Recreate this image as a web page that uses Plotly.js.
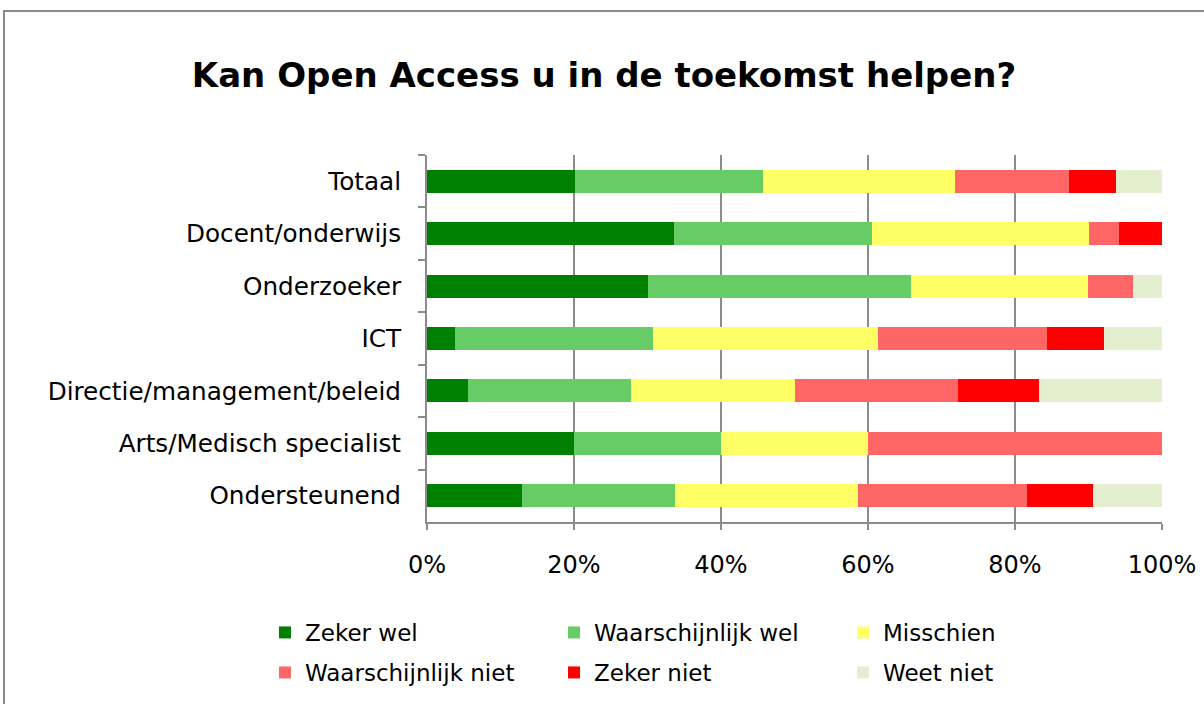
<!DOCTYPE html>
<html>
<head>
<meta charset="utf-8">
<script src="https://cdn.plot.ly/plotly-3.0.1.min.js"></script>
<style>html,body{margin:0;padding:0;background:#fff;}#chart{width:1204px;height:704px;}</style>
</head>
<body>
<div id="chart"></div>
<script>
var categories = ["Totaal", "Docent/onderwijs", "Onderzoeker", "ICT", "Directie/management/beleid", "Arts/Medisch specialist", "Ondersteunend"];
var seriesNames = ["Zeker wel", "Waarschijnlijk wel", "Misschien", "Waarschijnlijk niet", "Zeker niet", "Weet niet"];
var zekerWel = [20.1, 33.6, 30.0, 3.8, 5.6, 20, 12.9];
var waarschijnlijkWel = [25.6, 26.9, 35.9, 27.0, 22.2, 20, 20.9];
var misschien = [26.2, 29.5, 24.0, 30.5, 22.2, 20, 24.8];
var waarschijnlijkNiet = [15.4, 4.2, 6.1, 23.1, 22.2, 40, 23.0];
var zekerNiet = [6.4, 5.8, 0, 7.7, 11.1, 0, 9.0];
var weetNiet = [6.3, 0, 4.0, 7.9, 16.7, 0, 9.4];
var tickValues = [0, 20, 40, 60, 80, 100];
var tickLabels = ["0%", "20%", "40%", "60%", "80%", "100%"];

var seriesValues = [zekerWel, waarschijnlijkWel, misschien, waarschijnlijkNiet, zekerNiet, weetNiet];
var colors = ["#008000", "#66CC66", "#FFFF66", "#FF6666", "#FF0000", "#E4EFD0"];

var FONT = "DejaVu Sans, Verdana, sans-serif";

var traces = seriesValues.map(function (vals, i) {
  return {
    type: "bar",
    orientation: "h",
    name: seriesNames[i],
    y: categories,
    x: vals,
    marker: { color: colors[i], line: { width: 0 } },
    legend: i < 3 ? "legend" : "legend2",
    hoverinfo: "name+x"
  };
});

var plotL = 427, plotR = 1162, plotT = 155, plotB = 523;
var W = 1204, H = 704;
var pw = plotR - plotL, ph = plotB - plotT;
function px2x(p) { return (p - plotL) / pw; }
function py2y(p) { return (plotB - p) / ph; }

var legendFont = { family: FONT, size: 23, color: "#000" };

var layout = {
  width: W,
  height: H,
  paper_bgcolor: "#fff",
  plot_bgcolor: "#fff",
  margin: { l: plotL, r: W - plotR, t: plotT, b: H - plotB, pad: 0 },
  barmode: "stack",
  bargap: 0.5625,
  font: { family: FONT, color: "#000" },
  title: {
    text: "<b>Kan Open Access u in de toekomst helpen?</b>",
    font: { family: FONT, size: 34, color: "#000" },
    x: 604 / W,
    xanchor: "center",
    xref: "container",
    y: 1 - 75 / H,
    yanchor: "middle",
    yref: "container"
  },
  xaxis: {
    range: [0, 100],
    tickmode: "array",
    tickvals: tickValues,
    ticktext: tickLabels,
    showgrid: true,
    gridcolor: "#8C8C8C",
    gridwidth: 2,
    zeroline: false,
    showline: true,
    linecolor: "#8C8C8C",
    linewidth: 2,
    ticks: "outside",
    ticklen: 6,
    tickwidth: 2,
    tickcolor: "#8C8C8C",
    ticklabelstandoff: 14,
    tickfont: { family: FONT, size: 24, color: "#000" },
    fixedrange: true
  },
  yaxis: {
    type: "category",
    autorange: "reversed",
    showgrid: false,
    zeroline: false,
    showline: true,
    linecolor: "#8C8C8C",
    linewidth: 2,
    ticks: "outside",
    tickson: "boundaries",
    ticklen: 7,
    tickwidth: 2,
    tickcolor: "#8C8C8C",
    ticklabelstandoff: 19,
    tickfont: { family: FONT, size: 24.7, color: "#000" },
    fixedrange: true
  },
  legend: {
    orientation: "h",
    x: px2x(265),
    xanchor: "left",
    y: py2y(632.5),
    yanchor: "middle",
    font: legendFont,
    entrywidth: 244,
    entrywidthmode: "pixels",
    bgcolor: "rgba(0,0,0,0)",
    traceorder: "normal"
  },
  legend2: {
    orientation: "h",
    x: px2x(265),
    xanchor: "left",
    y: py2y(672.5),
    yanchor: "middle",
    font: legendFont,
    entrywidth: 244,
    entrywidthmode: "pixels",
    bgcolor: "rgba(0,0,0,0)",
    traceorder: "normal"
  },
  shapes: [{
    type: "rect",
    xref: "paper", yref: "paper",
    x0: px2x(4), x1: px2x(1215),
    y0: py2y(715), y1: py2y(10.5),
    line: { color: "#8A8A8A", width: 2 },
    fillcolor: "rgba(0,0,0,0)",
    layer: "below"
  }]
};

Plotly.newPlot("chart", traces, layout, { displayModeBar: false, staticPlot: true });
</script>
</body>
</html>
